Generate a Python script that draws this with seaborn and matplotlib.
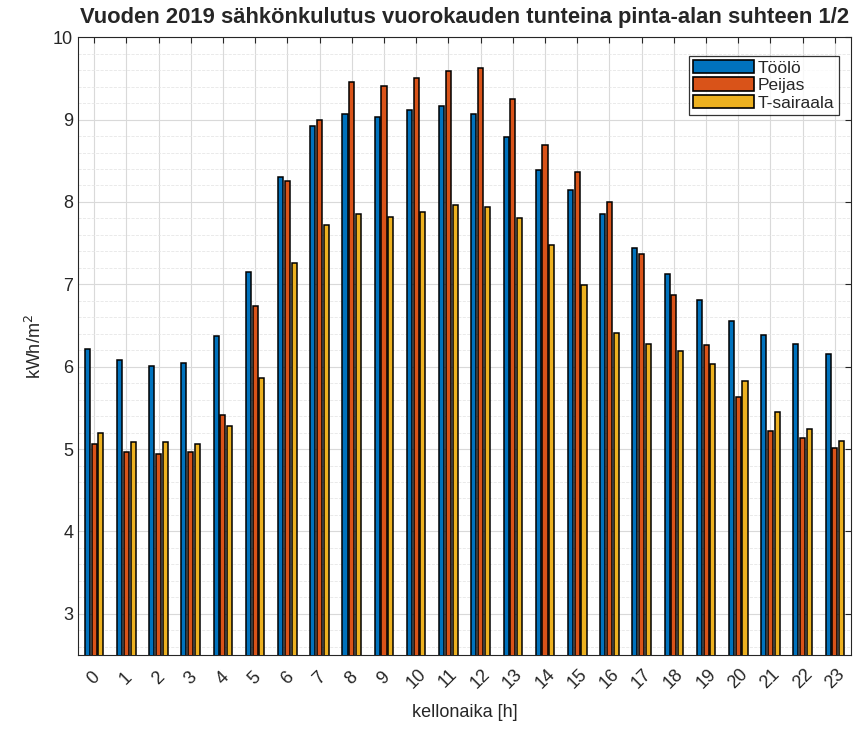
import matplotlib
matplotlib.use("Agg")
import matplotlib.pyplot as plt
import numpy as np
import pandas as pd
import seaborn as sns
from matplotlib.ticker import MultipleLocator

hours = list(range(24))
toolo = [6.22, 6.08, 6.01, 6.05, 6.37, 7.15, 8.30, 8.92, 9.07, 9.03, 9.12, 9.17,
         9.07, 8.79, 8.39, 8.15, 7.85, 7.44, 7.12, 6.81, 6.55, 6.39, 6.28, 6.15]
peijas = [5.06, 4.97, 4.94, 4.97, 5.41, 6.74, 8.25, 9.00, 9.45, 9.41, 9.50, 9.59,
          9.63, 9.25, 8.69, 8.36, 8.00, 7.37, 6.87, 6.26, 5.63, 5.22, 5.14, 5.01]
tsairaala = [5.19, 5.08, 5.08, 5.06, 5.28, 5.86, 7.26, 7.72, 7.85, 7.82, 7.88, 7.96,
             7.94, 7.81, 7.48, 6.99, 6.41, 6.28, 6.19, 6.03, 5.83, 5.45, 5.24, 5.10]
series = ["Töölö", "Peijas", "T-sairaala"]
colors = ["#0072BD", "#D95319", "#EDB120"]

df = pd.DataFrame({
    "hour": hours * 3,
    "value": toolo + peijas + tsairaala,
    "site": [s for s in series for _ in hours],
})

sns.set_style("white")
plt.rcParams["font.family"] = ["Liberation Sans", "DejaVu Sans"]

fig = plt.figure(figsize=(8.57, 7.29), dpi=100)
ax = fig.add_axes([0.091, 0.1015, 0.902, 0.8475])

sns.barplot(data=df, x="hour", y="value", hue="site", palette=colors,
            width=0.63, gap=0.25, edgecolor="black", linewidth=1.1,
            saturation=1, ax=ax, zorder=3)

ax.set_ylim(2.5, 10)
ax.set_xlim(-0.5, 23.5)
ax.yaxis.set_major_locator(MultipleLocator(1))
ax.yaxis.set_minor_locator(MultipleLocator(0.2))
ax.grid(which="major", color="#d9d9d9", linewidth=0.8, zorder=0)
ax.grid(which="minor", axis="y", color="#e6e6e6", linestyle="--", linewidth=0.6, zorder=0)
ax.set_axisbelow(True)

ax.tick_params(which="both", direction="in", top=True, right=True,
               colors="#262626", labelsize=13, length=4)
ax.tick_params(axis="x", pad=17)
ax.tick_params(which="minor", length=0)
plt.setp(ax.get_xticklabels(), rotation=45, ha="center", va="center")
for s in ax.spines.values():
    s.set_color("#262626")
    s.set_linewidth(0.8)

ax.set_xlabel("kellonaika [h]", fontsize=13, color="#262626", labelpad=9)
ax.set_ylabel("kWh/m$^2$", fontsize=13, color="#262626", labelpad=6)
ax.set_title("Vuoden 2019 sähkönkulutus vuorokauden tunteina pinta-alan suhteen 1/2",
             fontsize=15.8, fontweight="bold", pad=10)

leg = ax.legend(loc="upper right", fontsize=12.5, frameon=True, fancybox=False,
                edgecolor="black", handlelength=3.5, handleheight=0.8,
                handletextpad=0.2, borderpad=0.25, labelspacing=0.1,
                borderaxespad=0, bbox_to_anchor=(0.984, 0.97))
leg.get_frame().set_linewidth(0.9)
for h in leg.legend_handles:
    h.set_linewidth(1.2)

fig.savefig("out.png", dpi=100)
